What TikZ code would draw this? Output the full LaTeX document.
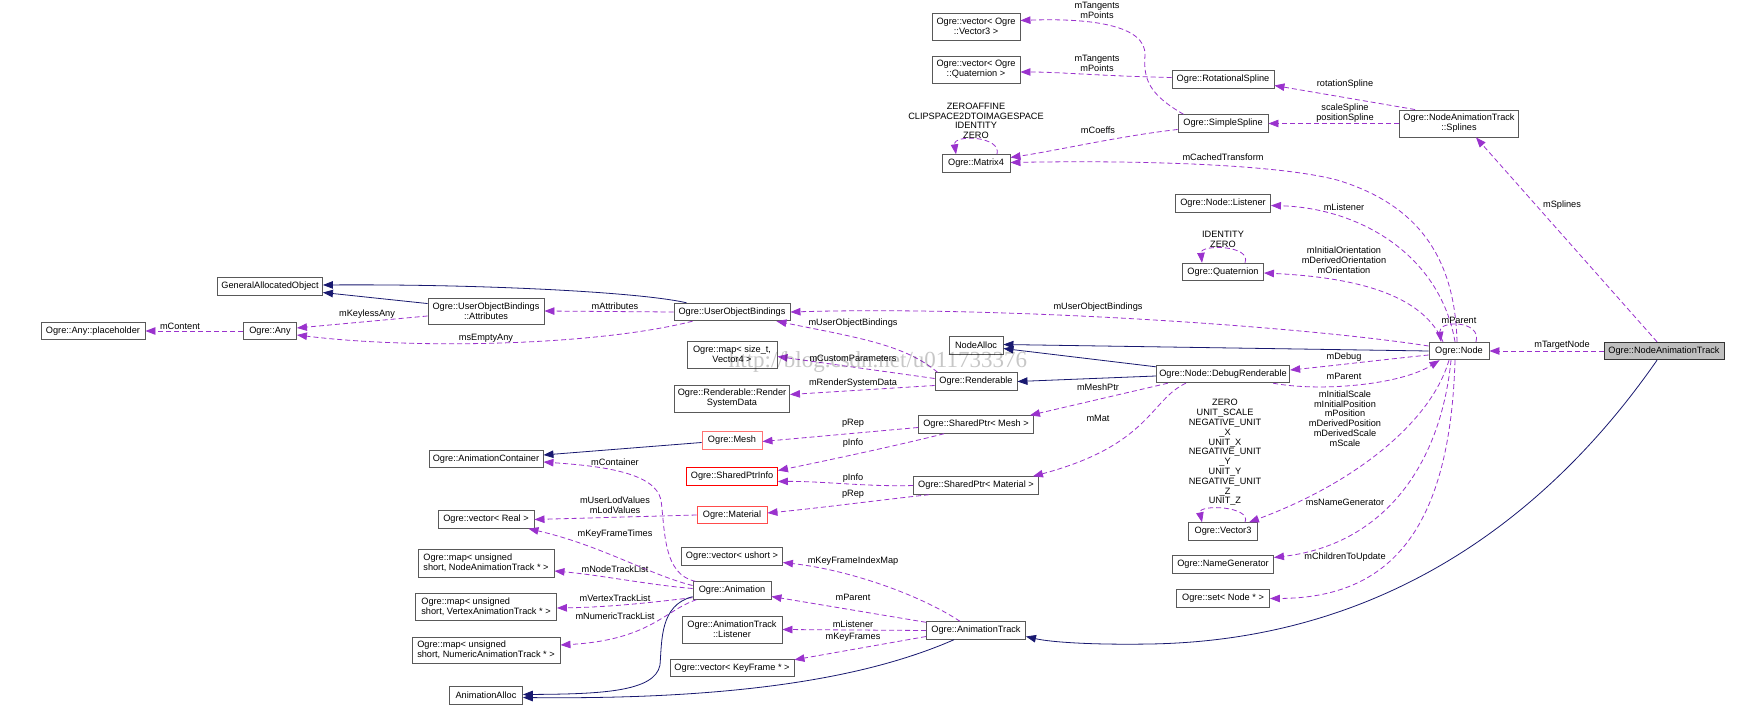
\documentclass[tikz,border=0pt]{standalone}
\usepackage{fontspec}
\setmainfont{Liberation Sans}
\newfontfamily\wmfont{Liberation Serif}
\usetikzlibrary{arrows.meta,calc}
\definecolor{usecol}{RGB}{154,50,205}
\definecolor{inhcol}{RGB}{25,25,112}
\definecolor{boxgray}{RGB}{191,191,191}
\newcommand{\dfs}{\fontsize{9.2}{10}\selectfont}
\newcommand{\lfs}{\fontsize{9.2}{9.8}\selectfont}
\begin{document}
\begin{tikzpicture}[x=1pt,y=-1pt,
 cls/.style={draw=black!65, line width=0.9pt, fill=white, font=\dfs, inner xsep=3pt, inner ysep=0pt, minimum height=17.5pt, align=center},
 lbl/.style={font=\lfs, inner sep=0pt, align=center},
 useedge/.style={draw=usecol, line width=0.8pt, dash pattern=on 5pt off 3pt, -{Triangle[length=10pt,width=7.5pt]}},
 inhedge/.style={draw=inhcol, line width=0.8pt, -{Triangle[length=10pt,width=7.5pt]}},
]
\fill[white] (0,0) rectangle (1737,708);
\useasboundingbox (0,0) rectangle (1737,708);

% ---------- classes ----------
\node[cls, minimum width=88pt, minimum height=27pt] (vecV3) at (976,26.5) {Ogre::vector< Ogre\\::Vector3 >};
\node[cls, minimum width=88pt, minimum height=27pt] (vecQ) at (976,69.5) {Ogre::vector< Ogre\\::Quaternion >};
\node[cls, minimum width=68pt] (mat4) at (976,163.5) {Ogre::Matrix4};
\node[cls, minimum width=102pt] (rot) at (1223,79.5) {Ogre::RotationalSpline};
\node[cls, minimum width=90pt] (simple) at (1223,123.5) {Ogre::SimpleSpline};
\node[cls, minimum width=119pt, minimum height=27pt] (splines) at (1459,123.5) {Ogre::NodeAnimationTrack\\::Splines};
\node[cls, minimum width=95pt] (listener) at (1223,203.5) {Ogre::Node::Listener};
\node[cls, minimum width=81pt] (quat) at (1223,272) {Ogre::Quaternion};
\node[cls, minimum width=105pt] (gao) at (270,286.5) {GeneralAllocatedObject};
\node[cls, minimum width=116pt, minimum height=26pt] (attr) at (486,311) {Ogre::UserObjectBindings\\::Attributes};
\node[cls, minimum width=104pt] (placeholder) at (93,331) {Ogre::Any::placeholder};
\node[cls, minimum width=53pt] (any) at (270,331) {Ogre::Any};
\node[cls, minimum width=116pt] (uob) at (732,312) {Ogre::UserObjectBindings};
\node[cls, minimum width=90pt, minimum height=27pt] (mapv4) at (732,354.5) {Ogre::map< size\_t,\\Vector4 >};
\node[cls, minimum width=115pt, minimum height=27pt] (rsd) at (732,398.5) {Ogre::Renderable::Render\\SystemData};
\node[cls, minimum width=54pt] (nodealloc) at (976,345.5) {NodeAlloc};
\node[cls, minimum width=82pt] (renderable) at (976,381.5) {Ogre::Renderable};
\node[cls, minimum width=133pt] (dbg) at (1223,374) {Ogre::Node::DebugRenderable};
\node[cls, minimum width=60pt] (node) at (1459,351) {Ogre::Node};
\node[cls, minimum width=120pt, fill=boxgray, draw=black!80] (nat) at (1664,351) {Ogre::NodeAnimationTrack};
\node[cls, minimum width=115pt] (spMesh) at (976,424.5) {Ogre::SharedPtr< Mesh >};
\node[cls, minimum width=125pt] (spMat) at (976,485.5) {Ogre::SharedPtr< Material >};
\node[cls, minimum width=69pt] (vec3) at (1223,531.5) {Ogre::Vector3};
\node[cls, minimum width=101pt] (namegen) at (1223,564.5) {Ogre::NameGenerator};
\node[cls, minimum width=93pt] (setnode) at (1223,598.5) {Ogre::set< Node * >};
\node[cls, minimum width=60pt, draw=red!55] (mesh) at (732,440.5) {Ogre::Mesh};
\node[cls, minimum width=114pt] (animcont) at (486,459) {Ogre::AnimationContainer};
\node[cls, minimum width=91pt, draw=red] (sharedinfo) at (732,476.5) {Ogre::SharedPtrInfo};
\node[cls, minimum width=70pt, draw=red!70] (material) at (732,515) {Ogre::Material};
\node[cls, minimum width=96pt] (vecreal) at (486,519.5) {Ogre::vector< Real >};
\node[cls, minimum width=101pt] (vecushort) at (732,556.5) {Ogre::vector< ushort >};
\node[cls, minimum width=136pt, minimum height=28pt, align=left] (mapNode) at (486,563) {Ogre::map< unsigned\\short, NodeAnimationTrack * >};
\node[cls, minimum width=78pt] (animation) at (732,590.5) {Ogre::Animation};
\node[cls, minimum width=141pt, minimum height=27pt, align=left] (mapVertex) at (486,606.5) {Ogre::map< unsigned\\short, VertexAnimationTrack * >};
\node[cls, minimum width=100pt, minimum height=27pt] (atListener) at (732,629.5) {Ogre::AnimationTrack\\::Listener};
\node[cls, minimum width=148pt, minimum height=26pt, align=left] (mapNumeric) at (486,650) {Ogre::map< unsigned\\short, NumericAnimationTrack * >};
\node[cls, minimum width=124pt] (vecKF) at (732,668) {Ogre::vector< KeyFrame * >};
\node[cls, minimum width=73pt] (animalloc) at (486,695.5) {AnimationAlloc};
\node[cls, minimum width=99pt] (animtrack) at (976,630.5) {Ogre::AnimationTrack};

% ---------- usage edges ----------
\draw[useedge] ($(simple.north west)+(6,0)$) .. controls (1150,95) and (1143,80) .. (1145,55) .. controls (1146,25) and (1090,18) .. ($(vecV3.east)+(0,-6)$);
\draw[useedge] ($(rot.west)+(0,-2)$) .. controls (1100,76) and (1060,72) .. ($(vecQ.east)+(0,2.5)$);
\draw[useedge] ($(simple.west)+(0,6)$) .. controls (1120,136) and (1060,150) .. ($(mat4.east)+(0,-6)$);
\draw[useedge] ($(node.north)+(-2,0)$) .. controls (1455,260) and (1420,205) .. (1337,180) .. controls (1280,165) and (1150,160) .. ($(mat4.east)+(0,-1)$);
\draw[useedge] ($(splines.north west)+(16,0)$) -- ($(rot.east)+(0,6)$);
\draw[useedge] (splines.west) -- (simple.east);
\draw[useedge] ($(nat.north)+(-7,0)$) -- ($(splines.south)+(17,0)$);
\draw[useedge] ($(mat4.north)+(21,0)$) .. controls (1002,136) and (953,134) .. ($(mat4.north)+(-20,0)$);
\draw[useedge] ($(node.north)+(-4,0)$) .. controls (1440,255) and (1360,208) .. ($(listener.east)+(0,2)$);
\draw[useedge] ($(quat.north)+(22,0)$) .. controls (1252,245) and (1200,244) .. ($(quat.north)+(-21,0)$);
\draw[useedge] ($(node.north)+(-16,0)$) .. controls (1425,300) and (1370,278) .. ($(quat.east)+(0,1)$);
\draw[useedge] ($(node.west)+(0,-5)$) .. controls (1300,326) and (1000,306) .. (uob.east);
\draw[useedge] ($(node.north)+(17,0)$) .. controls (1482,320) and (1438,320) .. ($(node.north)+(-18,0)$);
\draw[useedge] (nat.west) -- (node.east);
\draw[useedge] ($(node.west)+(0,4)$) .. controls (1380,360) and (1330,366) .. ($(dbg.east)+(0,-4)$);
\draw[useedge] ($(dbg.south east)+(-17,0)$) .. controls (1320,392) and (1400,385) .. ($(node.south west)+(11,0)$);
\draw[useedge] ($(node.south)+(-10,0)$) .. controls (1430,425) and (1350,485) .. ($(vec3.north east)+(-9,0)$);
\draw[useedge] ($(node.south)+(-8,0)$) .. controls (1440,470) and (1380,545) .. ($(namegen.east)+(0,-7)$);
\draw[useedge] ($(node.south)+(-4,0)$) .. controls (1450,530) and (1390,598) .. (setnode.east);
\draw[useedge] ($(vec3.north)+(22,0)$) .. controls (1252,506) and (1198,504) .. ($(vec3.north)+(-21,0)$);
\draw[useedge] (uob.west) -- (attr.east);
\draw[useedge] ($(attr.west)+(0,5)$) -- ($(any.east)+(0,-3)$);
\draw[useedge] ($(uob.south west)+(19,0)$) .. controls (600,345) and (420,350) .. ($(any.east)+(0,4)$);
\draw[useedge] (any.west) -- (placeholder.east);
\draw[useedge] ($(renderable.north west)+(3,0)$) .. controls (905,345) and (860,338) .. ($(uob.south east)+(-14,0)$);
\draw[useedge] ($(renderable.west)+(0,-3)$) -- ($(mapv4.east)+(0,2)$);
\draw[useedge] ($(renderable.west)+(0,4)$) -- ($(rsd.east)+(0,-4)$);
\draw[useedge] ($(dbg.south west)+(12,0)$) -- ($(spMesh.north east)+(-4,0)$);
\draw[useedge] ($(dbg.south west)+(30,0)$) .. controls (1150,400) and (1150,445) .. ($(spMat.north east)+(-6,0)$);
\draw[useedge] ($(spMesh.west)+(0,3)$) -- ($(mesh.east)+(0,1)$);
\draw[useedge] ($(spMesh.south west)+(26,0)$) .. controls (900,445) and (820,462) .. ($(sharedinfo.east)+(0,-6)$);
\draw[useedge] (spMat.west) .. controls (870,487) and (820,481) .. ($(sharedinfo.east)+(0,5)$);
\draw[useedge] ($(spMat.south west)+(16,0)$) .. controls (880,500) and (820,508) .. ($(material.east)+(0,-2)$);
\draw[useedge] ($(animation.north west)+(3,0)$) .. controls (663,575) and (665,530) .. (661,500) .. controls (655,472) and (600,466) .. ($(animcont.east)+(0,3)$);
\draw[useedge] (material.west) -- (vecreal.east);
\draw[useedge] ($(animation.west)+(0,-5)$) .. controls (650,575) and (600,545) .. ($(vecreal.south east)+(-6,0)$);
\draw[useedge] ($(animation.west)+(0,-2)$) .. controls (650,585) and (600,575) .. ($(mapNode.east)+(0,8)$);
\draw[useedge] ($(animation.south west)+(0,-2)$) .. controls (670,600) and (620,607) .. ($(mapVertex.east)+(0,1.5)$);
\draw[useedge] ($(animation.south west)+(4,0)$) .. controls (665,610) and (650,640) .. ($(mapNumeric.east)+(0,-5)$);
\draw[useedge] ($(animtrack.north)+(-16,0)$) .. controls (920,595) and (850,570) .. ($(vecushort.east)+(0,6)$);
\draw[useedge] ($(animtrack.north west)+(0,1)$) -- ($(animation.east)+(0,6)$);
\draw[useedge] (animtrack.west) -- (atListener.east);
\draw[useedge] ($(animtrack.west)+(0,6)$) -- ($(vecKF.north east)+(0,1)$);

% ---------- inheritance edges ----------
\draw[inhedge] ($(uob.north west)+(13,0)$) .. controls (640,292) and (480,284) .. ($(gao.east)+(0,-1.5)$);
\draw[inhedge] ($(attr.north west)+(0,6)$) -- ($(gao.east)+(0,6)$);
\draw[inhedge] (node.west) -- ($(nodealloc.east)+(0,-1)$);
\draw[inhedge] ($(dbg.north west)+(0,2)$) -- ($(nodealloc.east)+(0,3)$);
\draw[inhedge] ($(dbg.west)+(0,2)$) -- (renderable.east);
\draw[inhedge] ($(mesh.west)+(0,2)$) -- ($(animcont.east)+(0,-4)$);
\draw[inhedge] ($(animation.south west)+(0,-3)$) .. controls (660,605) and (662,640) .. (660,665) .. controls (655,692) and (600,694) .. ($(animalloc.east)+(0,-1)$);
\draw[inhedge] ($(animtrack.south)+(-22,0)$) .. controls (880,672) and (760,700) .. ($(animalloc.east)+(0,2)$);
\draw[inhedge] ($(nat.south)+(-7,0)$) .. controls (1560,500) and (1400,640) .. (1150,644) .. controls (1090,645) and (1050,642) .. ($(animtrack.east)+(0,6)$);

% ---------- labels ----------
\node[lbl] (l1) at (1097,10.5) {mTangents\\mPoints};
\node[lbl] (l2) at (1097,63) {mTangents\\mPoints};
\node[lbl] (l3) at (1098,130) {mCoeffs};
\node[lbl] (l4) at (1223,157) {mCachedTransform};
\node[lbl] (l5) at (1345,84) {rotationSpline};
\node[lbl] (l6) at (1345,113) {scaleSpline\\positionSpline};
\node[lbl] (l7) at (1562,205) {mSplines};
\node[lbl, anchor=south] (l8) at (976,139) {ZEROAFFINE\\CLIPSPACE2DTOIMAGESPACE\\IDENTITY\\ZERO};
\node[lbl] (l9) at (1344,207) {mListener};
\node[lbl, anchor=south] (l10) at (1223,248) {IDENTITY\\ZERO};
\node[lbl] (l11) at (1344,260) {mInitialOrientation\\mDerivedOrientation\\mOrientation};
\node[lbl] (l12) at (1098,307) {mUserObjectBindings};
\node[lbl] (l13) at (1459,320) {mParent};
\node[lbl] (l14) at (1562,345) {mTargetNode};
\node[lbl] (l15) at (1344,357) {mDebug};
\node[lbl] (l16) at (1344,376) {mParent};
\node[lbl] (l17) at (1345,418.5) {mInitialScale\\mInitialPosition\\mPosition\\mDerivedPosition\\mDerivedScale\\mScale};
\node[lbl] (l18) at (1345,502) {msNameGenerator};
\node[lbl] (l19) at (1345,557) {mChildrenToUpdate};
\node[lbl, anchor=south] (l20) at (1225,506) {ZERO\\UNIT\_SCALE\\NEGATIVE\_UNIT\\\_X\\UNIT\_X\\NEGATIVE\_UNIT\\\_Y\\UNIT\_Y\\NEGATIVE\_UNIT\\\_Z\\UNIT\_Z};
\node[lbl] (l21) at (615,306) {mAttributes};
\node[lbl] (l22) at (367,314) {mKeylessAny};
\node[lbl] (l23) at (486,338) {msEmptyAny};
\node[lbl] (l24) at (180,326) {mContent};
\node[lbl] (l25) at (853,323) {mUserObjectBindings};
\node[lbl] (l26) at (853,358) {mCustomParameters};
\node[lbl] (l27) at (853,383) {mRenderSystemData};
\node[lbl] (l28) at (1098,387) {mMeshPtr};
\node[lbl] (l29) at (1098,418) {mMat};
\node[lbl] (l30) at (853,423) {pRep};
\node[lbl] (l31) at (853,443) {pInfo};
\node[lbl] (l32) at (853,478) {pInfo};
\node[lbl] (l33) at (853,494) {pRep};
\node[lbl] (l34) at (615,462) {mContainer};
\node[lbl] (l35) at (615,505.5) {mUserLodValues\\mLodValues};
\node[lbl] (l36) at (615,534) {mKeyFrameTimes};
\node[lbl] (l37) at (615,569) {mNodeTrackList};
\node[lbl] (l38) at (615,598) {mVertexTrackList};
\node[lbl] (l39) at (615,616) {mNumericTrackList};
\node[lbl] (l40) at (853,561) {mKeyFrameIndexMap};
\node[lbl] (l41) at (853,597) {mParent};
\node[lbl] (l42) at (853,624) {mListener};
\node[lbl] (l43) at (853,637) {mKeyFrames};

% ---------- watermark (overlay, as in the reference) ----------
\node[font=\wmfont\fontsize{23}{23}\selectfont, text=black, opacity=0.22, inner sep=0pt] (wm) at (878,362) {http://blog.csdn.net/u011733376};
\end{tikzpicture}
\end{document}
